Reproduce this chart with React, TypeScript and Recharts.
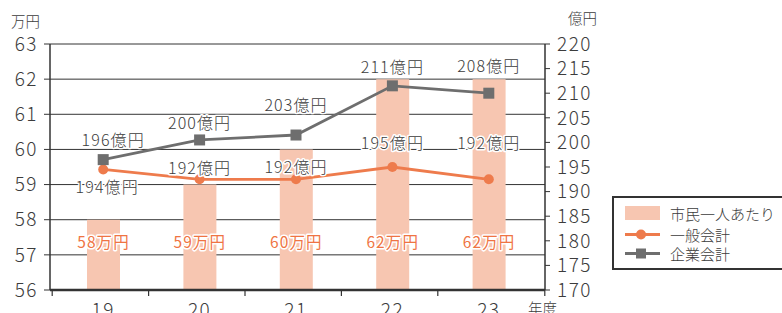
import React from "react";
import { ComposedChart, Bar, Line, XAxis, YAxis, CartesianGrid, LabelList } from "recharts";

// ---- data ----
const years = ["19", "20", "21", "22", "23"];
const perCapita = [58, 59, 60, 62, 62]; // 万円 (left axis)
const generalAccount = [194.5, 192.5, 192.5, 195, 192.5]; // 億円 (right axis, as plotted)
const enterpriseAccount = [196.5, 200.5, 201.5, 211.5, 210]; // 億円 (right axis, as plotted)
const perCapitaLabels = ["58万円", "59万円", "60万円", "62万円", "62万円"];
const generalLabels = ["194億円", "192億円", "192億円", "195億円", "192億円"];
const enterpriseLabels = ["196億円", "200億円", "203億円", "211億円", "208億円"];
const leftTicks = [56, 57, 58, 59, 60, 61, 62, 63];
const rightTicks = [170, 175, 180, 185, 190, 195, 200, 205, 210, 215, 220];
const seriesNames = ["市民一人あたり", "一般会計", "企業会計"];
const leftUnit = "万円";
const rightUnit = "億円";
const xUnit = "年度";

const data = years.map((y, i) => ({
  year: y,
  perCapita: perCapita[i],
  general: generalAccount[i],
  enterprise: enterpriseAccount[i],
}));

// ---- styles / layout ----
const FONT = "'Noto Sans CJK JP', 'Noto Sans', sans-serif";
const INK = "#333333";
const TEXT = "#3c3c3c";
const BAR = "#f7c6b1";
const ORANGE = "#ee7b4c";
const LABEL_ORANGE = "#ef7443";
const GRAY = "#6e6e6e";
const PLOT_BOTTOM = 290;
const GEN_DY = [17, -12, -13, -25, -37];
const GEN_DX = [4, 0, 0, 0, 0];
const ENT_DY = [-21, -18, -31, -20, -28];
const ENT_DX = [10, 0, 0, 0, 0];

const haloText = (x: number, y: number, text: string, fill: string, size: number, weight: number) => (
  <text
    x={x}
    y={y}
    textAnchor="middle"
    dominantBaseline="central"
    fontFamily={FONT}
    fontSize={size}
    fontWeight={weight}
    fill={fill}
    stroke="#ffffff"
    strokeWidth={3}
    paintOrder="stroke"
    strokeLinejoin="round"
    letterSpacing={1.1}
  >
    {text}
  </text>
);

const BarLabel = (props: any) => {
  const { x, y, width, height, index } = props;
  return haloText(x + width / 2, y + height - 49, perCapitaLabels[index], LABEL_ORANGE, 15.5, 400);
};

const GenLabel = (props: any) => {
  const { x, y, index } = props;
  return haloText(x + GEN_DX[index], y + GEN_DY[index], generalLabels[index], TEXT, 16, 300);
};

const EntLabel = (props: any) => {
  const { x, y, index } = props;
  return haloText(x + ENT_DX[index], y + ENT_DY[index], enterpriseLabels[index], TEXT, 16, 300);
};

const XTick = (props: any) => {
  const { x, payload, index } = props;
  return (
    <g>
      <line x1={x - 51} x2={x - 51} y1={PLOT_BOTTOM} y2={PLOT_BOTTOM + 6} stroke={INK} strokeWidth={1.2} />
      {index === years.length - 1 && (
        <line x1={x + 56} x2={x + 56} y1={PLOT_BOTTOM} y2={PLOT_BOTTOM + 6} stroke={INK} strokeWidth={1.2} />
      )}
      <text
        x={x}
        y={PLOT_BOTTOM + 18}
        textAnchor="middle"
        dominantBaseline="central"
        fontFamily={FONT}
        fontSize={19}
        fontWeight={300}
        fill={TEXT}
        letterSpacing={1.5}
      >
        {payload.value}
      </text>
    </g>
  );
};

const LegendBox = () => (
  <svg width={200} height={80} style={{ display: "block", overflow: "visible" }}>
    <rect x={1} y={1} width={196} height={72} fill="#fff" stroke={INK} strokeWidth={2} />
    <rect x={13} y={10} width={35} height={14} fill={BAR} />
    <text x={58} y={17} dominantBaseline="central" fontFamily={FONT} fontSize={15} fontWeight={300} fill={TEXT}>
      {seriesNames[0]}
    </text>
    <line x1={13} x2={48} y1={38.5} y2={38.5} stroke={ORANGE} strokeWidth={3} />
    <circle cx={29} cy={38.5} r={5} fill={ORANGE} />
    <text x={58} y={38} dominantBaseline="central" fontFamily={FONT} fontSize={15} fontWeight={300} fill={TEXT}>
      {seriesNames[1]}
    </text>
    <line x1={13} x2={48} y1={57.5} y2={57.5} stroke={GRAY} strokeWidth={3} />
    <rect x={24} y={52.5} width={10} height={10} fill={GRAY} />
    <text x={58} y={57} dominantBaseline="central" fontFamily={FONT} fontSize={15} fontWeight={300} fill={TEXT}>
      {seriesNames[2]}
    </text>
  </svg>
);

const SquareDot = (props: any) => {
  const { cx, cy } = props;
  return <rect x={cx - 5.5} y={cy - 5.5} width={11} height={11} fill={GRAY} />;
};

const unitStyle: React.CSSProperties = {
  position: "absolute",
  fontFamily: FONT,
  fontSize: 14.5,
  fontWeight: 300,
  color: TEXT,
  lineHeight: "18px",
  whiteSpace: "nowrap",
};

export default function App() {
  return (
    <div style={{ position: "absolute", left: 0, top: 0, width: 782, height: 313, background: "#fff", overflow: "hidden" }}>
      <ComposedChart
        width={782}
        height={313}
        data={data}
        margin={{ top: 44, right: 177, bottom: 0, left: 0 }}
      >
        <CartesianGrid yAxisId="left" vertical={false} stroke={INK} strokeWidth={1} />
        <XAxis
          dataKey="year"
          height={23}
          padding={{ left: 5, right: 8 }}
          axisLine={{ stroke: INK, strokeWidth: 2.5 }}
          tickLine={false}
          tick={<XTick />}
          interval={0}
        />
        <YAxis
          yAxisId="left"
          width={50}
          domain={[56, 63]}
          ticks={leftTicks}
          interval={0}
          axisLine={{ stroke: INK, strokeWidth: 1.5 }}
          tickLine={{ stroke: INK, strokeWidth: 1 }}
          tickSize={6}
          tickMargin={6}
          tick={{ fill: TEXT, fontSize: 19, fontFamily: FONT, fontWeight: 300, letterSpacing: 1.5 }}
        />
        <YAxis
          yAxisId="right"
          orientation="right"
          width={60}
          domain={[170, 220]}
          ticks={rightTicks}
          interval={0}
          axisLine={{ stroke: INK, strokeWidth: 1.5 }}
          tickLine={{ stroke: INK, strokeWidth: 1 }}
          tickSize={5}
          tickMargin={7}
          tick={{ fill: TEXT, fontSize: 19, fontFamily: FONT, fontWeight: 300, letterSpacing: 1.5 }}
        />
        <Bar yAxisId="left" dataKey="perCapita" fill={BAR} barSize={33} isAnimationActive={false}>
          <LabelList dataKey="perCapita" content={<BarLabel />} />
        </Bar>
        <Line
          yAxisId="right"
          dataKey="general"
          stroke={ORANGE}
          strokeWidth={2.8}
          dot={{ r: 5, fill: ORANGE, stroke: ORANGE, strokeWidth: 0 }}
          isAnimationActive={false}
        >
          <LabelList dataKey="general" content={<GenLabel />} />
        </Line>
        <Line
          yAxisId="right"
          dataKey="enterprise"
          stroke={GRAY}
          strokeWidth={2.8}
          dot={<SquareDot />}
          isAnimationActive={false}
        >
          <LabelList dataKey="enterprise" content={<EntLabel />} />
        </Line>
      </ComposedChart>
      <div style={{ position: "absolute", left: 612, top: 196 }}>
        <LegendBox />
      </div>
      <div style={{ ...unitStyle, left: 11, top: 12 }}>{leftUnit}</div>
      <div style={{ ...unitStyle, left: 568, top: 9 }}>{rightUnit}</div>
      <div style={{ ...unitStyle, left: 528, top: 299 }}>{xUnit}</div>
    </div>
  );
}
